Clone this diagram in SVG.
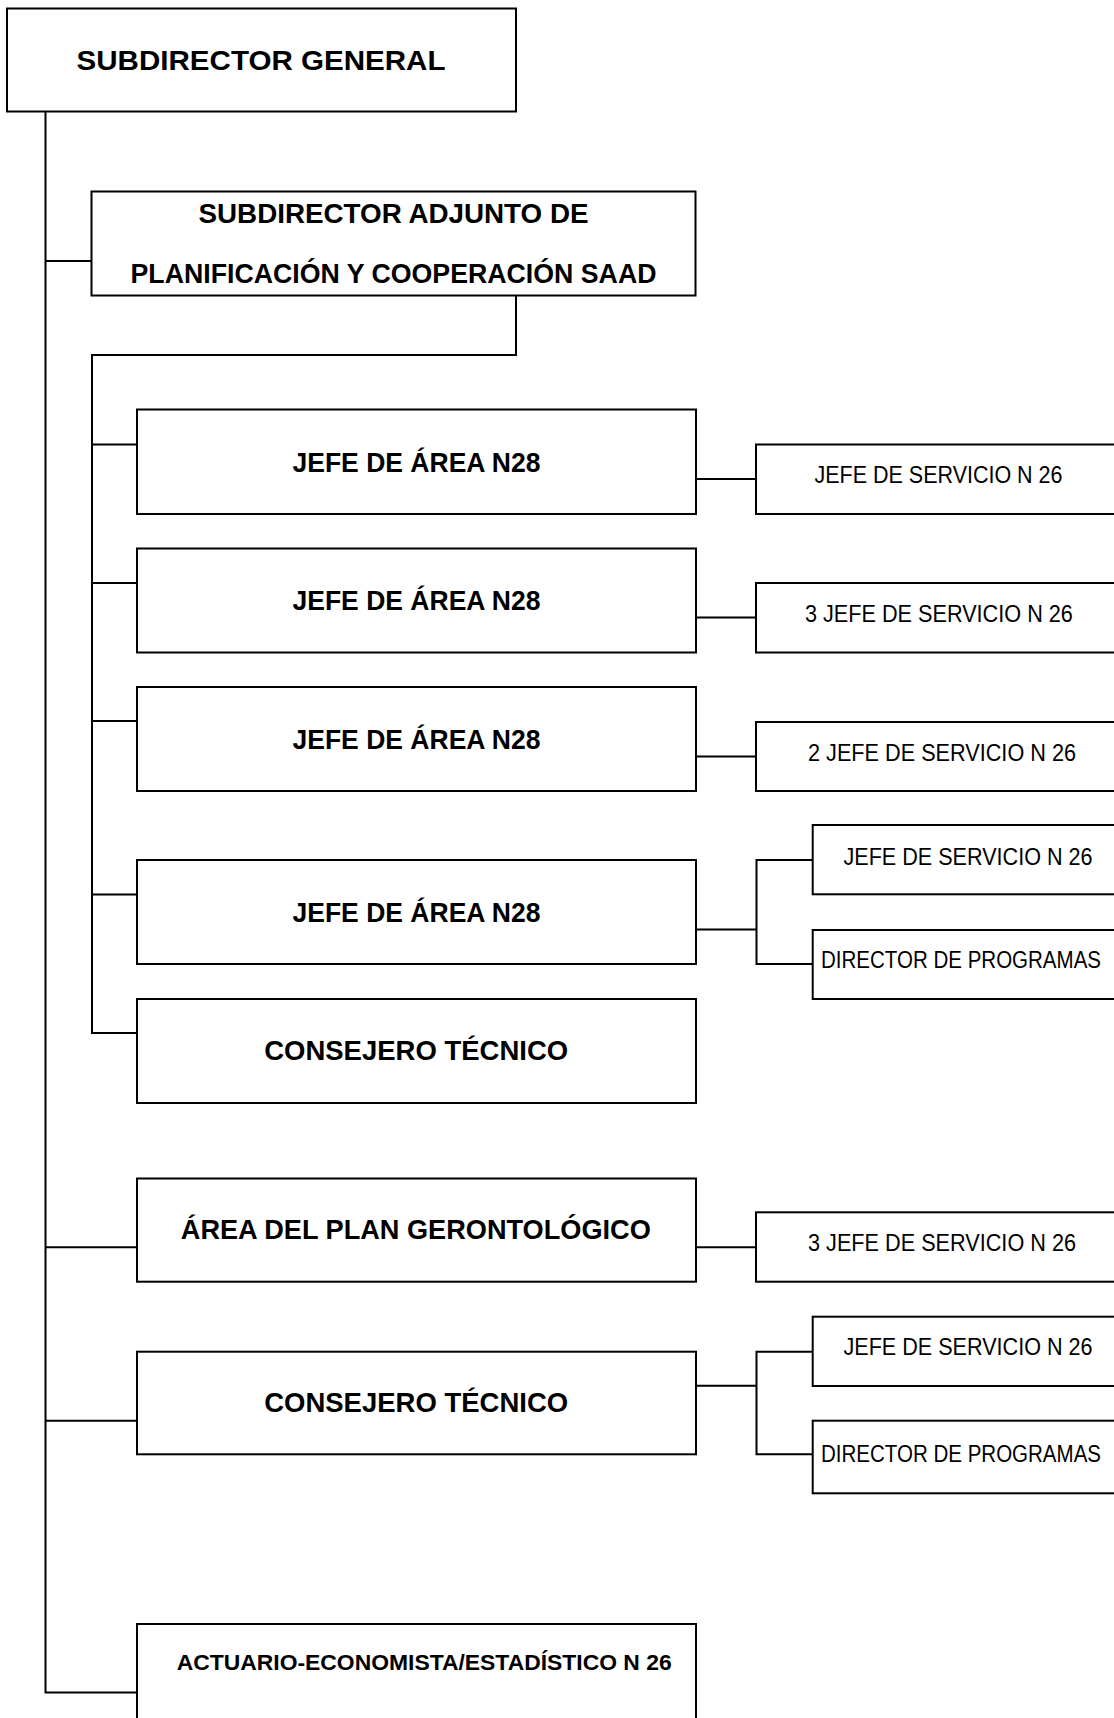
<svg xmlns="http://www.w3.org/2000/svg" width="1114" height="1718" viewBox="0 0 1114 1718">
<style>
.box{fill:#fff;stroke:#000;stroke-width:2}
.ln{fill:none;stroke:#000;stroke-width:2}
.b{font-family:"Liberation Sans",Arial,sans-serif;font-weight:bold;fill:#000;text-anchor:middle}
.r{font-family:"Liberation Sans",Arial,sans-serif;fill:#000;text-anchor:middle;font-size:23px}
</style>
<rect width="1114" height="1718" fill="#fff"/>
<g id="connectors">
<path class="ln" d="M45.5 111.5 V1692.5 H137"/>
<path class="ln" d="M45.5 261 H91.5"/>
<path class="ln" d="M516 295.5 V355 H92 V1033 H137"/>
<path class="ln" d="M92 444.5 H137 M92 583 H137 M92 721 H137 M92 894.5 H137"/>
<path class="ln" d="M696 479 H756 M696 617.5 H756 M696 756.5 H756"/>
<path class="ln" d="M696 929.5 H756.5 M812.7 860 H756.5 V964 H812.7"/>
<path class="ln" d="M45.5 1247.3 H137 M45.5 1420.7 H137"/>
<path class="ln" d="M696 1247.3 H756"/>
<path class="ln" d="M696 1385.7 H756.5 M812.7 1351.7 H756.5 V1454.3 H812.7"/>
</g>
<g id="n-subdirector-general">
<rect class="box" x="7" y="8.5" width="509" height="103"/>
<text class="b" x="261" y="70" font-size="28" textLength="369" lengthAdjust="spacingAndGlyphs">SUBDIRECTOR GENERAL</text>
</g>
<g id="n-adjunto">
<rect class="box" x="91.5" y="191.5" width="604" height="104"/>
<text class="b" x="393.5" y="222.7" font-size="27" textLength="390" lengthAdjust="spacingAndGlyphs">SUBDIRECTOR ADJUNTO DE</text>
<text class="b" x="393.5" y="283" font-size="27" textLength="526" lengthAdjust="spacingAndGlyphs">PLANIFICACIÓN Y COOPERACIÓN SAAD</text>
</g>
<g id="n-area1">
<rect class="box" x="137" y="409.5" width="559" height="104.5"/>
<text class="b" x="416.5" y="471.7" font-size="28" textLength="248" lengthAdjust="spacingAndGlyphs">JEFE DE ÁREA N28</text>
</g>
<g id="n-area2">
<rect class="box" x="137" y="548.5" width="559" height="104"/>
<text class="b" x="416.5" y="610" font-size="28" textLength="248" lengthAdjust="spacingAndGlyphs">JEFE DE ÁREA N28</text>
</g>
<g id="n-area3">
<rect class="box" x="137" y="687" width="559" height="104"/>
<text class="b" x="416.5" y="748.5" font-size="28" textLength="248" lengthAdjust="spacingAndGlyphs">JEFE DE ÁREA N28</text>
</g>
<g id="n-area4">
<rect class="box" x="137" y="860" width="559" height="104"/>
<text class="b" x="416.5" y="921.7" font-size="28" textLength="248" lengthAdjust="spacingAndGlyphs">JEFE DE ÁREA N28</text>
</g>
<g id="n-consejero1">
<rect class="box" x="137" y="999" width="559" height="104"/>
<text class="b" x="416.2" y="1060" font-size="28" textLength="304" lengthAdjust="spacingAndGlyphs">CONSEJERO TÉCNICO</text>
</g>
<g id="n-serv1">
<rect class="box" x="756" y="444.5" width="364" height="69.5"/>
<text class="r" x="938.5" y="483.3" textLength="248" lengthAdjust="spacingAndGlyphs">JEFE DE SERVICIO N 26</text>
</g>
<g id="n-serv2">
<rect class="box" x="756" y="583" width="364" height="69.5"/>
<text class="r" x="938.9" y="621.7" textLength="268" lengthAdjust="spacingAndGlyphs">3 JEFE DE SERVICIO N 26</text>
</g>
<g id="n-serv3">
<rect class="box" x="756" y="722" width="364" height="69"/>
<text class="r" x="942" y="760.7" textLength="268" lengthAdjust="spacingAndGlyphs">2 JEFE DE SERVICIO N 26</text>
</g>
<g id="n-serv4a">
<rect class="box" x="812.7" y="825" width="310" height="69.3"/>
<text class="r" x="968" y="865" textLength="249" lengthAdjust="spacingAndGlyphs">JEFE DE SERVICIO N 26</text>
</g>
<g id="n-dir4b">
<rect class="box" x="812.7" y="930" width="310" height="69"/>
<text class="r" x="821" y="968.3" style="text-anchor:start" textLength="280" lengthAdjust="spacingAndGlyphs">DIRECTOR DE PROGRAMAS</text>
</g>
<g id="n-gerontologico">
<rect class="box" x="137" y="1178.5" width="559" height="103.2"/>
<text class="b" x="415.8" y="1239.3" font-size="28" textLength="470" lengthAdjust="spacingAndGlyphs">ÁREA DEL PLAN GERONTOLÓGICO</text>
</g>
<g id="n-serv5">
<rect class="box" x="756" y="1212.3" width="364" height="69.4"/>
<text class="r" x="942" y="1251" textLength="268" lengthAdjust="spacingAndGlyphs">3 JEFE DE SERVICIO N 26</text>
</g>
<g id="n-consejero2">
<rect class="box" x="137" y="1351.7" width="559" height="102.6"/>
<text class="b" x="416.2" y="1411.7" font-size="28" textLength="304" lengthAdjust="spacingAndGlyphs">CONSEJERO TÉCNICO</text>
</g>
<g id="n-serv6a">
<rect class="box" x="812.7" y="1316.7" width="310" height="69.3"/>
<text class="r" x="968" y="1355" textLength="249" lengthAdjust="spacingAndGlyphs">JEFE DE SERVICIO N 26</text>
</g>
<g id="n-dir6b">
<rect class="box" x="812.7" y="1420.7" width="310" height="72.6"/>
<text class="r" x="821" y="1461.7" style="text-anchor:start" textLength="280" lengthAdjust="spacingAndGlyphs">DIRECTOR DE PROGRAMAS</text>
</g>
<g id="n-actuario">
<rect class="box" x="137" y="1624" width="559" height="110"/>
<text class="b" x="424.2" y="1670" font-size="22" textLength="495" lengthAdjust="spacingAndGlyphs">ACTUARIO-ECONOMISTA/ESTADÍSTICO N 26</text>
</g>
</svg>
